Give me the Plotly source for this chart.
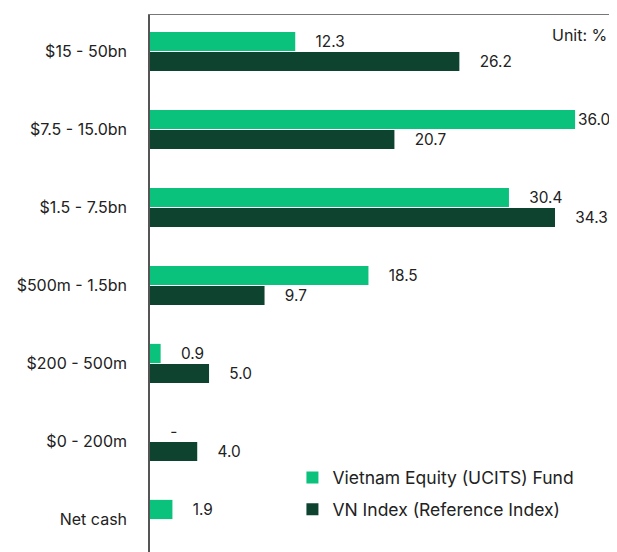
import plotly.graph_objects as go

categories = ["$15 - 50bn", "$7.5 - 15.0bn", "$1.5 - 7.5bn", "$500m - 1.5bn",
              "$200 - 500m", "$0 - 200m", "Net cash"]
fund_values = [12.3, 36.0, 30.4, 18.5, 0.9, 0.0, 1.9]
fund_labels = ["12.3", "36.0", "30.4", "18.5", "0.9", "-", "1.9"]
index_values = [26.2, 20.7, 34.3, 9.7, 5.0, 4.0, None]
index_labels = ["26.2", "20.7", "34.3", "9.7", "5.0", "4.0", ""]

FONT = "Inter, Roboto, sans-serif"
GREEN = "#0BC27C"
DARK = "#0E4330"
XMAX = 39.55

def pad(vals, labels):
    out = []
    for v, l in zip(vals, labels):
        v = v or 0
        out.append(("" if v > 35 else "    ") + l)
    return out

fig = go.Figure()
fig.add_trace(go.Bar(
    y=categories, x=fund_values, orientation="h", name="Vietnam Equity (UCITS) Fund",
    legendgroup="a",
    marker=dict(color=GREEN, line=dict(width=0)),
    text=pad(fund_values, fund_labels), textposition="outside",
    textfont=dict(family=FONT, size=16, color="#222"), cliponaxis=False,
))
fig.add_trace(go.Bar(
    y=categories, x=index_values, orientation="h", name="VN Index (Reference Index)",
    legendgroup="b",
    marker=dict(color=DARK, line=dict(width=0)),
    text=pad(index_values, index_labels), textposition="outside",
    textfont=dict(family=FONT, size=16, color="#222"), cliponaxis=False,
))

# page body adds an 8px margin, so the figure is sized/margined to compensate
fig.update_layout(
    width=609, height=544,
    margin=dict(l=142, r=0, t=7, b=0),
    paper_bgcolor="white", plot_bgcolor="white",
    barmode="group", bargap=0.487, bargroupgap=0.04,
    font=dict(family=FONT, size=16, color="#222"),
    showlegend=True,
    legend=dict(x=0.305, y=0.172, xanchor="left", yanchor="top",
                font=dict(family=FONT, size=17.5, color="#222"),
                bgcolor="rgba(0,0,0,0)", tracegroupgap=6, itemwidth=30),
    xaxis=dict(range=[0, XMAX], showgrid=False, zeroline=False,
               showticklabels=False, showline=True, linecolor="#777",
               linewidth=1, mirror=False, side="top"),
    yaxis=dict(type="category", range=[6.417, -0.468], showgrid=False,
               showline=True, linecolor="#555", linewidth=1.5,
               ticks="", ticklabelstandoff=18,
               tickfont=dict(family=FONT, size=16, color="#222")),
    annotations=[dict(text="Unit: %", xref="paper", yref="paper", x=0.982, y=0.963,
                      xanchor="right", yanchor="middle", showarrow=False,
                      font=dict(family=FONT, size=16, color="#222"))],
)

fig.write_html("out.html")
